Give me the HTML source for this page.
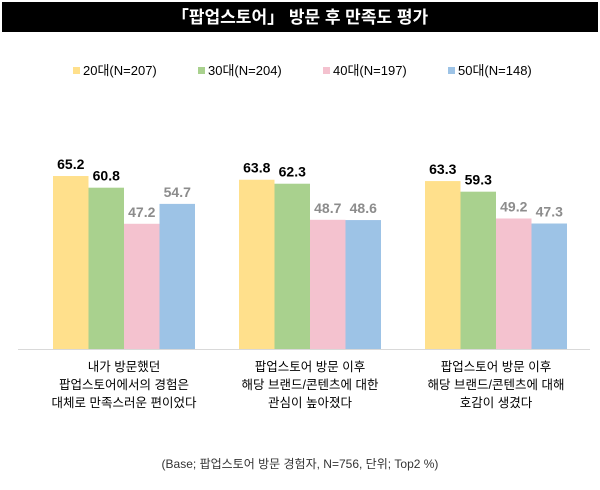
<!DOCTYPE html>
<html><head><meta charset="utf-8"><style>
body{margin:0;width:600px;height:485px;background:#fff;font-family:"Liberation Sans","Noto Sans CJK KR",sans-serif;overflow:hidden}
</style></head><body>
<svg width="600" height="485" xmlns="http://www.w3.org/2000/svg" id="c">
<rect x="2" y="2" width="596" height="30" fill="#000"/>
<text x="300" y="23" text-anchor="middle" fill="#fff" font-size="17" font-weight="bold" font-family="Liberation Sans, Noto Sans CJK KR, sans-serif">「팝업스토어」 방문 후 만족도 평가</text>
<g id="legend"></g>
<g id="bars"></g>
<line x1="18" y1="349.5" x2="590" y2="349.5" stroke="#d9d9d9" stroke-width="1"/>
<g id="cats"></g>
<text x="300" y="468" text-anchor="middle" font-size="12" fill="#333" font-family="Liberation Sans, Noto Sans CJK KR, sans-serif">(Base; 팝업스토어 방문 경험자, N=756, 단위; Top2 %)</text>
</svg>
<script>
const series = ["20대(N=207)","30대(N=204)","40대(N=197)","50대(N=148)"];
const categories = [["내가 방문했던","팝업스토어에서의 경험은","대체로 만족스러운 편이었다"],["팝업스토어 방문 이후","해당 브랜드/콘텐츠에 대한","관심이 높아졌다"],["팝업스토어 방문 이후","해당 브랜드/콘텐츠에 대해","호감이 생겼다"]];
const v20 = [65.2,63.8,63.3];
const v30 = [60.8,62.3,59.3];
const v40 = [47.2,48.7,49.2];
const v50 = [54.7,48.6,47.3];
const vals=[v20,v30,v40,v50];
const colors=["#FFE08C","#A9D18E","#F4C2CF","#9DC3E6"];
const NS="http://www.w3.org/2000/svg";
const base=349, scale=2.653;
const y=v=>base-v*scale;
const gx=i=>53+i*186, bw=35.5;
function mk(t,a,p){const e=document.createElementNS(NS,t);for(const k in a)e.setAttribute(k,a[k]);p.appendChild(e);return e;}
const bars=document.getElementById('bars'), cats=document.getElementById('cats'), lg=document.getElementById('legend');
const lx=[73,198,323,448];
series.forEach((s,j)=>{
 const r=mk('rect',{x:lx[j],y:67,width:7,height:7,fill:colors[j]},lg);
 
 
 const t=mk('text',{x:lx[j]+10,y:75,'font-size':13,fill:'#000'},lg);t.textContent=s;
 
 
});
categories.forEach((c,i)=>{
 vals.forEach((arr,j)=>{
  const x=gx(i)+j*bw;
  const r=mk('rect',{x:x,y:y(arr[i]),width:bw,height:arr[i]*scale,fill:colors[j]},bars);
  
  
  const t=mk('text',{x:x+bw/2,y:y(arr[i])-7,'text-anchor':'middle','font-size':14,'font-weight':'bold',fill:j<2?'#000':'#8c8c8c'},bars);
  t.textContent=arr[i].toFixed(1);
  
  
 });
 c.forEach((line,k)=>{
  const t=mk('text',{x:gx(i)+2*bw,y:371+k*18,'text-anchor':'middle','font-size':12.5,fill:'#000'},cats);
  t.textContent=line;
  
  
 });
});
</script>
</body></html>
